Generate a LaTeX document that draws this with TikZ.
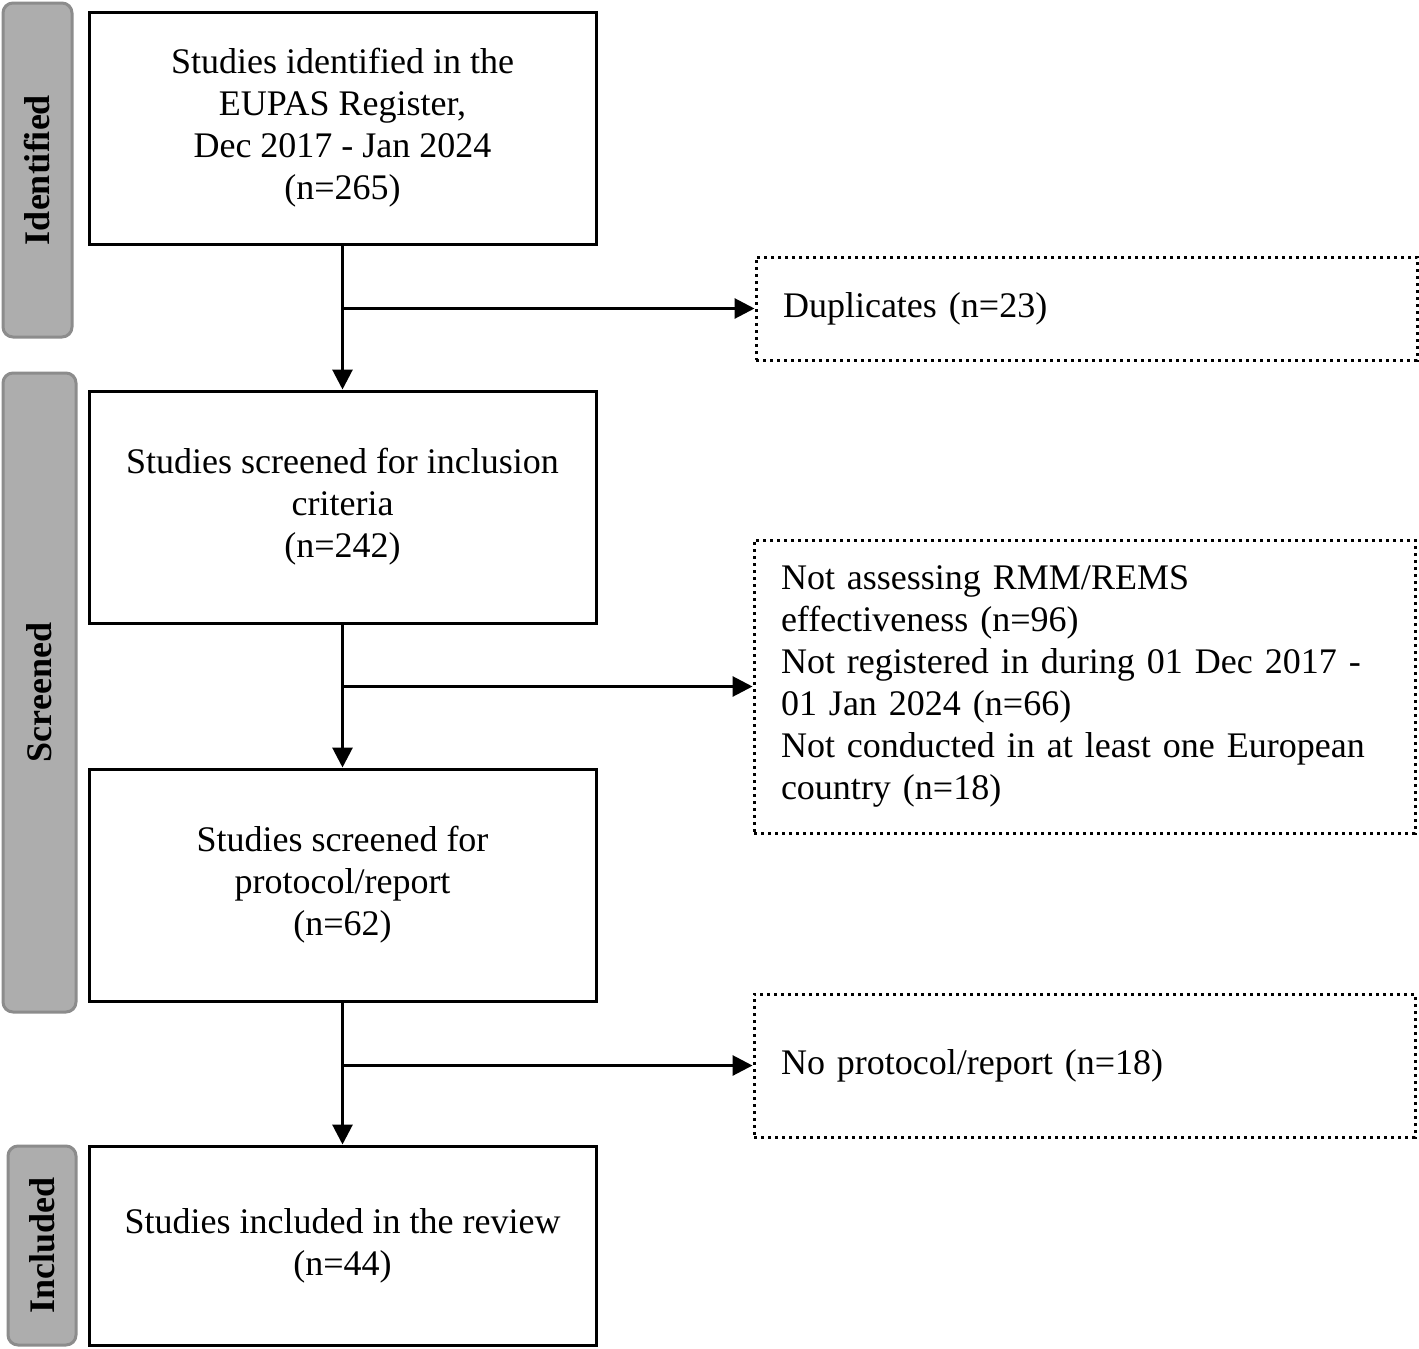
\documentclass[tikz,border=0pt]{standalone}
\usepackage{fontspec}
\setmainfont{Liberation Serif}
\usetikzlibrary{arrows.meta}
\definecolor{sidegray}{HTML}{ADADAD}
\definecolor{sideline}{HTML}{8C8C8C}
\begin{document}
\begin{tikzpicture}[x=0.5pt, y=-0.5pt,
    every node/.style={font=\fontsize{18}{21}\selectfont},
    mainbox/.style={draw, line width=1.5pt, minimum width=253.5pt, align=center, inner sep=0pt},
    exclbox/.style={draw, dotted, line width=1.5pt, minimum width=330.5pt, text width=303.5pt, align=left, inner xsep=13.5pt, inner ysep=0pt},
    sidebox/.style={draw=sideline, fill=sidegray, line width=1.5pt, rounded corners=5pt, rotate=90, font=\fontsize{18}{21}\selectfont\bfseries}]
      \useasboundingbox (0, 0) rectangle (1419, 1349);
      %% stage labels
      \node [sidebox, minimum width=167pt, minimum height=34.5pt] (lident) at (37.5, 170) {Identified};
      \node [sidebox, minimum width=319.5pt, minimum height=36.5pt] (lscreen) at (39.5, 692.5) {Screened};
      \node [sidebox, minimum width=99.5pt, minimum height=34pt] (lincl) at (42, 1245.5) {Included};
      %% main boxes
      \node [mainbox, minimum height=116pt] (ident) at (342.5, 128) {Studies identified in the\\EUPAS Register,\\Dec 2017 - Jan 2024\\(n=265)};
      \node [mainbox, minimum height=116pt] (screen) at (342.5, 507) {Studies screened for inclusion\\criteria\\(n=242)};
      \node [mainbox, minimum height=116pt] (proto) at (342.5, 885) {Studies screened for\\protocol/report\\(n=62)};
      \node [mainbox, minimum height=99.5pt] (incl) at (342.5, 1245.5) {Studies included in the review\\(n=44)};
      %% excluded boxes
      \node [exclbox, minimum height=51.5pt] (dup) at (1086.5, 308.5) {Duplicates (n=23)};
      \node [exclbox, minimum height=146.5pt] (notelig) at (1084.5, 686.5) {Not assessing RMM/REMS\\effectiveness (n=96)\\Not registered in during 01 Dec 2017 -\\01 Jan 2024 (n=66)\\Not conducted in at least one European\\country (n=18)};
      \node [exclbox, minimum height=71.5pt] (noproto) at (1084.5, 1065.5) {No protocol/report (n=18)};
      %% arrows
      \coordinate (j1) at (ident.south |- dup.west);
      \coordinate (j2) at (screen.south |- notelig.west);
      \coordinate (j3) at (proto.south |- noproto.west);
      \draw [line width=1.5pt, -{Triangle[width=10pt, length=10pt]}] (ident) -- (screen);
      \draw [line width=1.5pt, -{Triangle[width=10pt, length=10pt]}] (screen) -- (proto);
      \draw [line width=1.5pt, -{Triangle[width=10pt, length=10pt]}] (proto) -- (incl);
      \draw [line width=1.5pt, -{Triangle[width=10pt, length=10pt]}] (j1) -- (dup);
      \draw [line width=1.5pt, -{Triangle[width=10pt, length=10pt]}] (j2) -- (notelig);
      \draw [line width=1.5pt, -{Triangle[width=10pt, length=10pt]}] (j3) -- (noproto);
    \end{tikzpicture}
\end{document}
